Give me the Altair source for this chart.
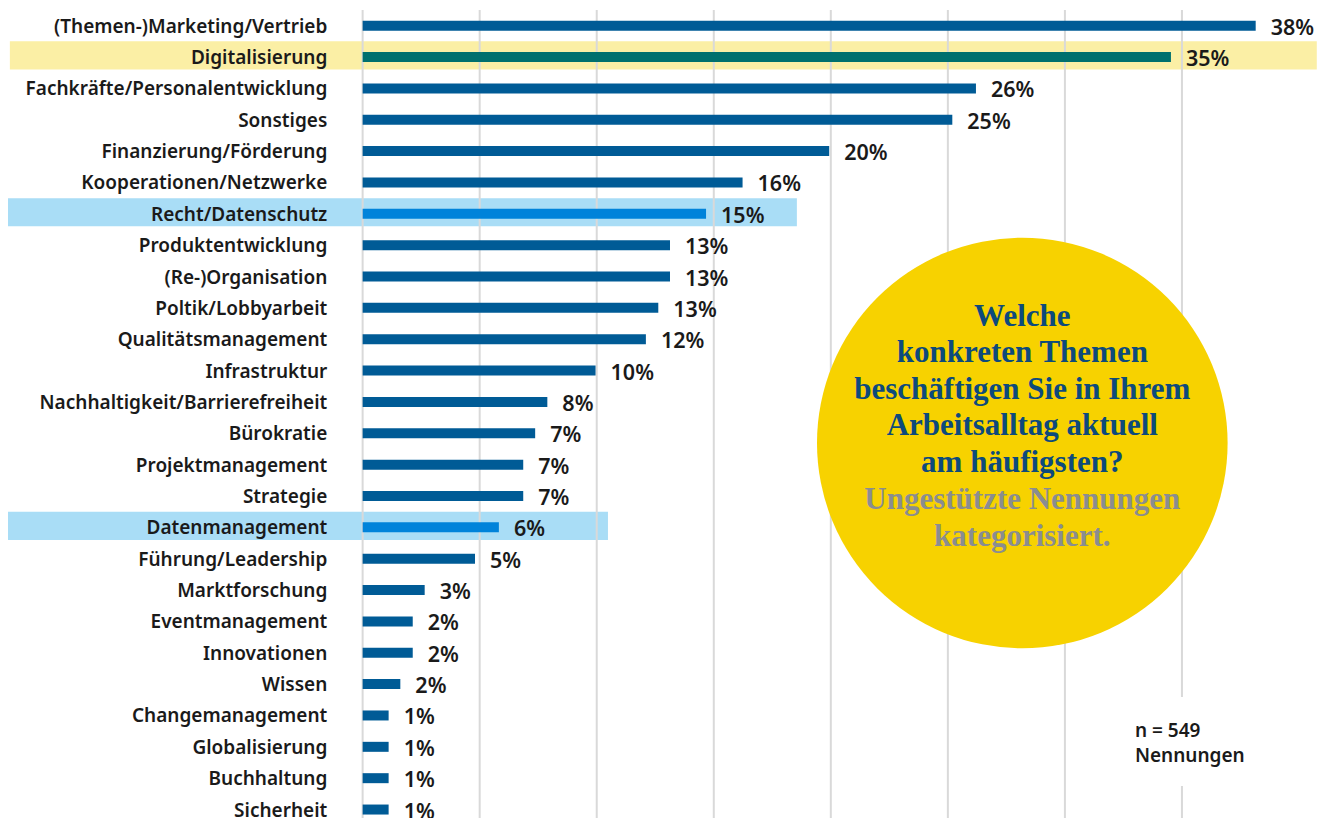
import altair as alt
import pandas as pd

categories = [
    "(Themen-)Marketing/Vertrieb", "Digitalisierung", "Fachkräfte/Personalentwicklung",
    "Sonstiges", "Finanzierung/Förderung", "Kooperationen/Netzwerke", "Recht/Datenschutz",
    "Produktentwicklung", "(Re-)Organisation", "Poltik/Lobbyarbeit", "Qualitätsmanagement",
    "Infrastruktur", "Nachhaltigkeit/Barrierefreiheit", "Bürokratie", "Projektmanagement",
    "Strategie", "Datenmanagement", "Führung/Leadership", "Marktforschung",
    "Eventmanagement", "Innovationen", "Wissen", "Changemanagement", "Globalisierung",
    "Buchhaltung", "Sicherheit",
]
values = [38.15, 34.53, 26.2, 25.19, 19.93, 16.23, 14.67, 13.13, 13.13, 12.63, 12.1,
          9.95, 7.89, 7.37, 6.86, 6.86, 5.82, 4.80, 2.65, 2.14, 2.14, 1.61, 1.11, 1.11,
          1.11, 1.11]
value_labels = ["38%", "35%", "26%", "25%", "20%", "16%", "15%", "13%", "13%", "13%",
                "12%", "10%", "8%", "7%", "7%", "7%", "6%", "5%", "3%", "2%", "2%", "2%",
                "1%", "1%", "1%", "1%"]
groups = ["normal"] * len(categories)
groups[1] = "digital"
groups[6] = "highlight"
groups[16] = "highlight"

band_rows = ["Digitalisierung", "Recht/Datenschutz", "Datenmanagement"]
band_start = [-15.07, -15.15, -15.15]
band_end = [40.76, 18.55, 10.48]
band_group = ["digital", "highlight", "highlight"]

grid_ticks = [0, 5, 10, 15, 20, 25, 30, 35]

question = "Welche\nkonkreten Themen\nbeschäftigen Sie in Ihrem\nArbeitsalltag aktuell\nam häufigsten?"
subtitle = "Ungestützte Nennungen\nkategorisiert."
note = "n = 549\nNennungen"

df = pd.DataFrame({"cat": categories, "value": values, "label": value_labels,
                   "group": groups, "row": list(range(len(categories)))})
df["zero"] = 0.0
df["lx"] = -1.51
row_of = {c: i for i, c in enumerate(categories)}
bands = pd.DataFrame({"row": [row_of[c] for c in band_rows], "x0": band_start,
                      "x1": band_end, "group": band_group})
bands["y0"] = bands["row"] - 0.5
bands["y1"] = bands["row"] + 0.4
grid = pd.DataFrame({"t": grid_ticks})

xs = alt.Scale(domain=[-15.15, 40.94], nice=False, zero=False)
ys = alt.Scale(domain=[-0.5, 25.27], nice=False, zero=False, reverse=True)

bar_colors = alt.Scale(domain=["normal", "digital", "highlight"],
                       range=["#005B96", "#00706E", "#0083DA"])
band_colors = alt.Scale(domain=["digital", "highlight"], range=["#FBEFA5", "#A9DDF6"])

LABEL_FONT = "Noto Sans"

band_layer = alt.Chart(bands).mark_rect().encode(
    x=alt.X("x0:Q", scale=xs, axis=None), x2="x1:Q",
    y=alt.Y("y0:Q", scale=ys, axis=None), y2="y1:Q",
    fill=alt.Fill("group:N", scale=band_colors, legend=None),
)

grid_layer = alt.Chart(grid).mark_rule(color="#D9D9D9", strokeWidth=2).encode(
    x=alt.X("t:Q", scale=xs, axis=None),
)

bar_layer = alt.Chart(df).mark_rule(strokeWidth=10).encode(
    x=alt.X("value:Q", scale=xs, axis=None), x2="zero:Q",
    y=alt.Y("row:Q", scale=ys, axis=None),
    stroke=alt.Stroke("group:N", scale=bar_colors, legend=None),
)

value_layer = alt.Chart(df).mark_text(
    align="left", baseline="middle", dx=15, dy=3, font=LABEL_FONT,
    fontWeight=600, fontSize=21.5, color="#1A1A1A",
).encode(
    x=alt.X("value:Q", scale=xs, axis=None),
    y=alt.Y("row:Q", scale=ys, axis=None),
    text="label:N",
)

cat_layer = alt.Chart(df).mark_text(
    align="right", baseline="middle", dy=1, font=LABEL_FONT,
    fontWeight=600, fontSize=19, color="#1A1A1A",
).encode(
    x=alt.X("lx:Q", scale=xs, axis=None),
    y=alt.Y("row:Q", scale=ys, axis=None),
    text="cat:N",
)

ann = pd.DataFrame({"x": [28.18], "y": [13.31], "qy": [9.28], "sy": [15.13],
                    "q": [question], "s": [subtitle], "nx": [32.99], "ny": [22.5],
                    "n": [note], "bx0": [32.3], "bx1": [37.5], "by0": [21.41],
                    "by1": [24.25]})

circle_layer = alt.Chart(ann).mark_circle(size=168600, color="#F7D200", opacity=1).encode(
    x=alt.X("x:Q", scale=xs, axis=None), y=alt.Y("y:Q", scale=ys, axis=None),
)

q_layer = alt.Chart(ann).mark_text(
    align="center", baseline="middle", lineBreak="\n", lineHeight=36.6,
    font="Liberation Serif", fontWeight="bold", fontSize=31, color="#0D4A7C",
).encode(
    x=alt.X("x:Q", scale=xs, axis=None), y=alt.Y("qy:Q", scale=ys, axis=None), text="q:N",
)

s_layer = alt.Chart(ann).mark_text(
    align="center", baseline="middle", lineBreak="\n", lineHeight=36.6,
    font="Liberation Serif", fontWeight="bold", fontSize=31, color="#8A8D90",
).encode(
    x=alt.X("x:Q", scale=xs, axis=None), y=alt.Y("sy:Q", scale=ys, axis=None), text="s:N",
)

box_layer = alt.Chart(ann).mark_rect(color="white").encode(
    x=alt.X("bx0:Q", scale=xs, axis=None), x2="bx1:Q",
    y=alt.Y("by0:Q", scale=ys, axis=None), y2="by1:Q",
)

n_layer = alt.Chart(ann).mark_text(
    align="left", baseline="middle", lineBreak="\n", lineHeight=25,
    font=LABEL_FONT, fontWeight=600, fontSize=19, color="#1A1A1A",
).encode(
    x=alt.X("nx:Q", scale=xs, axis=None), y=alt.Y("ny:Q", scale=ys, axis=None), text="n:N",
)

chart = alt.layer(
    band_layer, grid_layer, bar_layer, value_layer, cat_layer,
    circle_layer, q_layer, s_layer, box_layer, n_layer,
).resolve_scale(color="independent").properties(
    width=1313, height=808,
    padding={"left": 0, "top": 2, "right": 0, "bottom": 0},
    autosize=alt.AutoSizeParams(type="none"),
).configure_view(stroke=None)

chart.save("out.html", embed_options={"renderer": "svg", "actions": False})
